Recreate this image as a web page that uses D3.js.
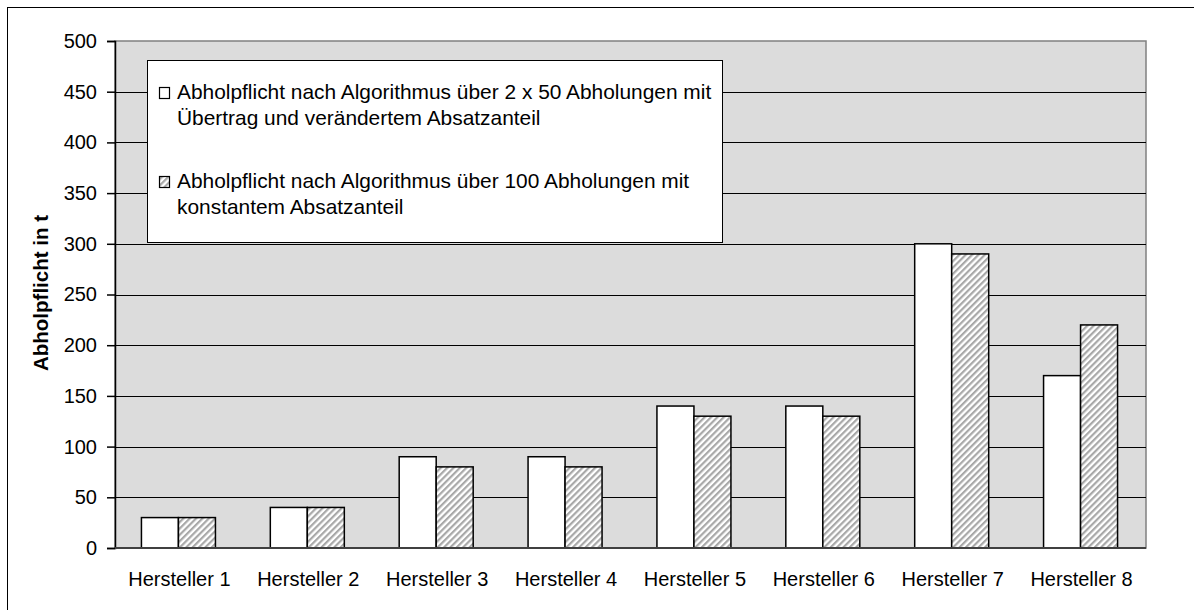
<!DOCTYPE html>
<html>
<head>
<meta charset="utf-8">
<script src="https://cdn.jsdelivr.net/npm/d3@7"></script>
<style>
  body { margin: 0; background: #fff; }
  text { font-family: "Liberation Sans", Arial, sans-serif; fill: #000; }
</style>
</head>
<body>
<svg id="chart" width="1194" height="610"></svg>
<script>
var categories = ["Hersteller 1", "Hersteller 2", "Hersteller 3", "Hersteller 4",
                  "Hersteller 5", "Hersteller 6", "Hersteller 7", "Hersteller 8"];
var series2x50 = [30, 40, 90, 90, 140, 140, 300, 170];
var series100 = [30, 40, 80, 80, 130, 130, 290, 220];
var yTicks = [0, 50, 100, 150, 200, 250, 300, 350, 400, 450, 500];
var legendLabels = [
  ["Abholpflicht nach Algorithmus über 2 x 50 Abholungen mit", "Übertrag und verändertem Absatzanteil"],
  ["Abholpflicht nach Algorithmus über 100 Abholungen mit", "konstantem Absatzanteil"]
];

var svg = d3.select("#chart");
var plotLeft = 115, plotRight = 1146, plotTop = 41, plotBottom = 548;

// hatch pattern
var defs = svg.append("defs");
var pat = defs.append("pattern")
    .attr("id", "hatch")
    .attr("patternUnits", "userSpaceOnUse")
    .attr("width", 4.5)
    .attr("height", 4.5)
    .attr("patternTransform", "rotate(45)");
pat.append("rect").attr("width", 4.5).attr("height", 4.5).attr("fill", "#fff");
pat.append("rect").attr("width", 2.2).attr("height", 4.5).attr("fill", "#a8a8a8");

// outer frame
svg.append("rect")
    .attr("x", 7.5).attr("y", 7.5)
    .attr("width", 1200).attr("height", 620)
    .attr("fill", "#fff").attr("stroke", "#000").attr("stroke-width", 1);

var x = d3.scaleBand().domain(categories).range([plotLeft, plotRight]);
var y = d3.scaleLinear().domain([0, 500]).range([plotBottom, plotTop]);

// plot area
svg.append("rect")
    .attr("x", plotLeft).attr("y", plotTop)
    .attr("width", plotRight - plotLeft).attr("height", plotBottom - plotTop)
    .attr("fill", "#dcdcdc").attr("stroke", "#808080").attr("stroke-width", 1.5);

// gridlines
svg.append("g").selectAll("line")
    .data(yTicks.filter(function(d){ return d > 0 && d < 500; }))
    .enter().append("line")
    .attr("x1", plotLeft).attr("x2", plotRight)
    .attr("y1", function(d){ return Math.round(y(d)) + 0.5; })
    .attr("y2", function(d){ return Math.round(y(d)) + 0.5; })
    .attr("stroke", "#000").attr("stroke-width", 1);

// bars
var barW = 37;
var groups = svg.append("g").selectAll("g")
    .data(categories)
    .enter().append("g")
    .attr("transform", function(d){ return "translate(" + (x(d) + x.bandwidth() / 2 - 1) + ",0)"; });

groups.append("rect")
    .attr("x", -barW)
    .attr("y", function(d, i){ return y(series2x50[i]); })
    .attr("width", barW)
    .attr("height", function(d, i){ return plotBottom - y(series2x50[i]); })
    .attr("fill", "#fff").attr("stroke", "#000").attr("stroke-width", 1.5);

groups.append("rect")
    .attr("x", 0)
    .attr("y", function(d, i){ return y(series100[i]); })
    .attr("width", barW)
    .attr("height", function(d, i){ return plotBottom - y(series100[i]); })
    .attr("fill", "url(#hatch)").attr("stroke", "#000").attr("stroke-width", 1.5);

// y axis
var yAxis = svg.append("g")
    .attr("transform", "translate(" + plotLeft + ",0)")
    .call(d3.axisLeft(y).tickValues(yTicks).tickSize(8).tickPadding(10));
yAxis.select(".domain").attr("stroke", "#000").attr("stroke-width", 1.5);
yAxis.selectAll(".tick line").attr("stroke", "#000").attr("stroke-width", 1.5);
yAxis.selectAll(".tick text")
    .style("font-family", "'Liberation Sans', Arial, sans-serif")
    .style("font-size", "20px").attr("fill", "#000");

// x axis baseline
svg.append("line")
    .attr("x1", plotLeft).attr("x2", plotRight)
    .attr("y1", plotBottom).attr("y2", plotBottom)
    .attr("stroke", "#404040").attr("stroke-width", 2);

// x labels
svg.append("g").selectAll("text")
    .data(categories)
    .enter().append("text")
    .attr("x", function(d){ return x(d) + x.bandwidth() / 2; })
    .attr("y", 586)
    .attr("text-anchor", "middle")
    .style("font-size", "20px")
    .text(function(d){ return d; });

// y title
svg.append("text")
    .attr("transform", "translate(48,293) rotate(-90)")
    .attr("text-anchor", "middle")
    .style("font-size", "20.5px")
    .style("font-weight", "bold")
    .text("Abholpflicht in t");

// legend
var legend = svg.append("g");
legend.append("rect")
    .attr("x", 147.5).attr("y", 60.5)
    .attr("width", 575).attr("height", 182)
    .attr("fill", "#fff").attr("stroke", "#000").attr("stroke-width", 1);

var fills = ["#fff", "url(#hatch)"];
var itemY = [99, 188];
legendLabels.forEach(function(lines, i){
  legend.append("rect")
      .attr("x", 159.5).attr("y", itemY[i] - 11.5)
      .attr("width", 10).attr("height", 11)
      .attr("fill", fills[i]).attr("stroke", "#000").attr("stroke-width", 1.2);
  lines.forEach(function(t, j){
    legend.append("text")
        .attr("x", 177)
        .attr("y", itemY[i] + j * 25.5)
        .style("font-size", "20.9px")
        .text(t);
  });
});
</script>
</body>
</html>
